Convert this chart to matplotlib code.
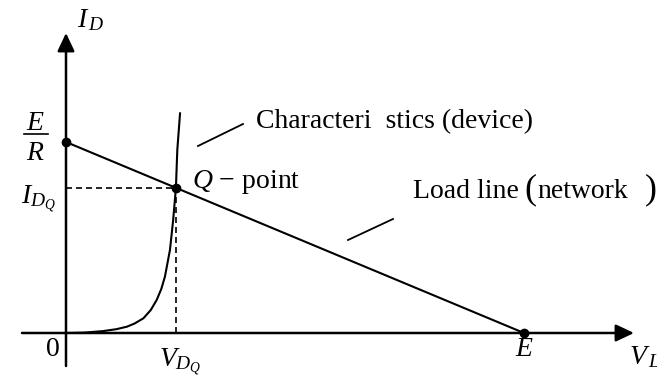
import matplotlib
matplotlib.use('Agg')
import matplotlib.pyplot as plt

plt.rcParams['font.family'] = 'Liberation Serif'
plt.rcParams['mathtext.fontset'] = 'custom'
plt.rcParams['mathtext.rm'] = 'Liberation Serif'
plt.rcParams['mathtext.it'] = 'Liberation Serif:italic'

# supply voltage and resistance (normalised units)
E = 10.0
R = 1.0
# operating point on the load line
V_Q = 2.4
I_Q = (E - V_Q) / R

# diode characteristic
diode_v = [0.0, 0.4, 0.81, 1.1, 1.33, 1.5, 1.69, 1.85, 1.98, 2.08, 2.16,
           2.27, 2.34, 2.4, 2.43, 2.49]
diode_i = [0.0, 0.02, 0.10, 0.2, 0.33, 0.5, 0.77, 1.2, 1.73, 2.3, 2.95,
           4.35, 5.92, 7.6, 9.58, 11.5]

W, H = 657, 378
X0, Y0 = 66, 333          # origin in pixels
SX, SY = 45.8, 19.1       # pixels per unit


def at(x, y):
    # pixel position -> data coordinates
    return (x - X0) / SX, (Y0 - y) / SY


fig = plt.figure(figsize=(W / 100, H / 100), dpi=100)
ax = fig.add_axes([0, 0, 1, 1])
ax.set_xlim(at(0, 0)[0], at(W, 0)[0])
ax.set_ylim(at(0, H)[1], at(0, 0)[1])
ax.axis('off')

arrow = dict(arrowstyle='-|>,head_length=0.55,head_width=0.26',
             mutation_scale=20, lw=1.8, color='k', shrinkA=0, shrinkB=0)
ax.annotate('', xy=at(634, Y0), xytext=at(22, Y0), arrowprops=arrow)
ax.annotate('', xy=at(X0, 33), xytext=at(X0, 366), arrowprops=arrow)

# load line and device curve
ax.plot([0, E], [E / R, 0], color='k', lw=1.5, solid_capstyle='round')
ax.plot(diode_v, diode_i, color='k', lw=1.5)

# projections of the Q-point
ax.plot([0, V_Q], [I_Q, I_Q], color='k', lw=1.2, dashes=(3.6, 2.4))
ax.plot([V_Q, V_Q], [0, I_Q], color='k', lw=1.2, dashes=(3.6, 2.4))

ax.plot([0, V_Q, E], [E / R, I_Q, 0], 'o', color='k', ms=6)

# leader lines
lx, ly = zip(at(198, 146), at(243, 124))
ax.plot(lx, ly, color='k', lw=1.3)
lx, ly = zip(at(348, 240), at(393, 219))
ax.plot(lx, ly, color='k', lw=1.3)

txt = dict(fontsize=20, color='k')
math = dict(fontsize=20, color='k')

ax.text(*at(91, 20), r'$I_{\,D}$', ha='center', va='center', **math)
ax.text(*at(35, 123), r'$E$', ha='center', va='center', **math)
bx, by = zip(at(24, 134), at(48, 134))
ax.plot(bx, by, color='k', lw=1.2)
ax.text(*at(35, 153), r'$R$', ha='center', va='center', **math)
ax.text(*at(38, 199), r'$I_{D_Q}$', ha='center', va='center', **math)
ax.text(*at(53, 350), '0', ha='center', va='center', **txt)
ax.text(*at(180, 362), r'$V_{D_Q}$', ha='center', va='center', **math)
ax.text(*at(524, 350), r'$E$', ha='center', va='center', **math)
ax.text(*at(629, 357), r'$V_{\,L}$', ha='left', va='center', **math)

ax.text(*at(256, 128), 'Characteri  stics (device)', ha='left',
        va='baseline', **txt)
ax.text(*at(192, 188), r'$Q$ $-$ point', ha='left', va='baseline', **txt)
ax.text(*at(413, 198), 'Load line', ha='left', va='baseline', **txt)
ax.text(*at(524, 190), '(', ha='left', va='center', fontsize=26)
ax.text(*at(537, 198), 'network', ha='left', va='baseline', **txt)
ax.text(*at(645, 190), ')', ha='left', va='center', fontsize=26)

fig.savefig('out.png', dpi=100)
